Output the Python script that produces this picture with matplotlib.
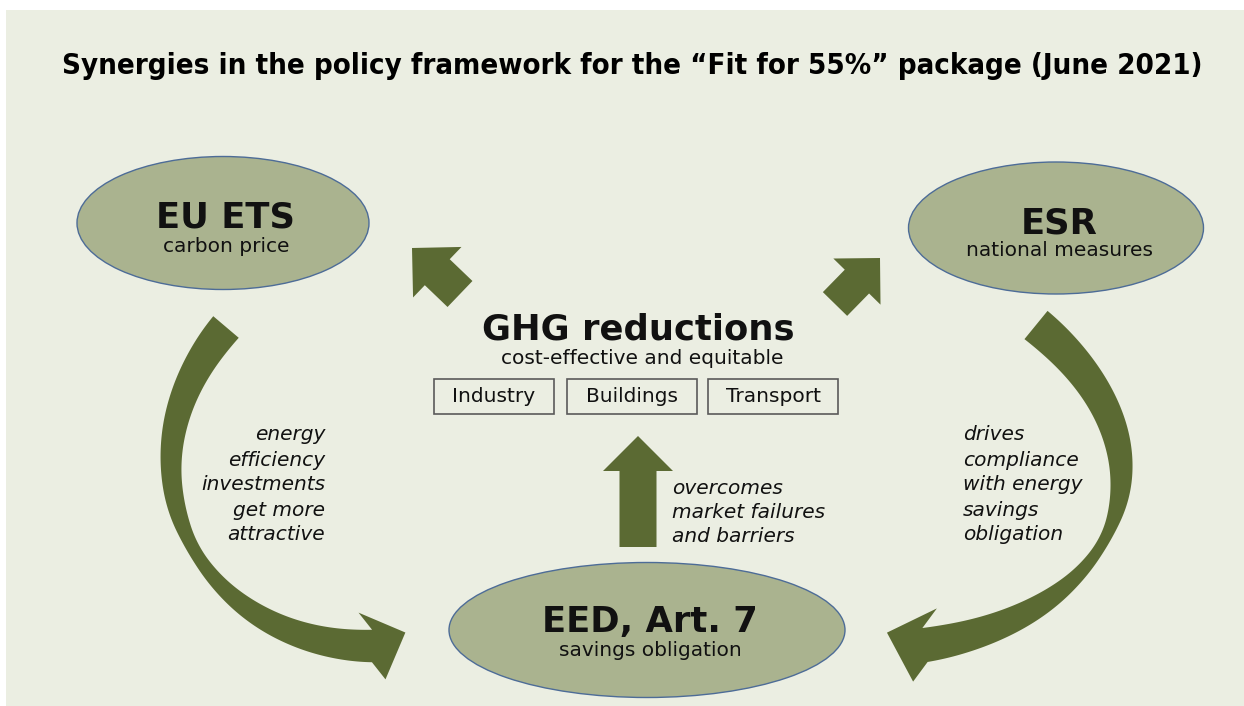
import numpy as np
import matplotlib
matplotlib.use("Agg")
import matplotlib.pyplot as plt
from matplotlib import font_manager
from matplotlib.patches import Ellipse, Rectangle, FancyArrow, Polygon

# text content of the diagram
title = "Synergies in the policy framework for the \u201cFit for 55%\u201d package (June 2021)"
node_names = ["EU ETS", "ESR", "EED, Art. 7"]
node_subs = ["carbon price", "national measures", "savings obligation"]
goal_name = "GHG reductions"
goal_sub = "cost-effective and equitable"
sectors = ["Industry", "Buildings", "Transport"]
left_note = ["energy", "efficiency", "investments", "get more", "attractive"]
right_note = ["drives", "compliance", "with energy", "savings", "obligation"]
mid_note = ["overcomes", "market failures", "and barriers"]

# colours
bg = "#ebeee2"
ell_fill = "#aab38f"
ell_edge = "#4d6c97"
arrow_col = "#5b6a33"
ink = "#111111"

names = {f.name for f in font_manager.fontManager.ttflist}
title_font = "Liberation Sans Narrow" if "Liberation Sans Narrow" in names else "DejaVu Sans"

W, H = 1244, 706
fig = plt.figure(figsize=(W / 100, H / 100), dpi=100)
ax = fig.add_axes([0, 0, 1, 1])
ax.set_xlim(0, W)
ax.set_ylim(H, 0)
ax.axis("off")

ax.add_patch(Rectangle((6, 10), W - 6, H - 10, color=bg, lw=0))

# title, scaled so it spans the same width as the original
t = ax.text(632, 66, title, ha="center", va="center", fontsize=22,
            fontweight="bold", family=title_font, fontstretch="condensed")
fig.canvas.draw()
w_now = t.get_window_extent().width
t.set_fontsize(22 * 1135 / w_now)

# ellipses (centre x, centre y, width, height)
ells = [(223, 223, 292, 133), (1056, 228, 295, 132), (647, 630, 396, 135)]
name_y = [218, 224, 622]
sub_y = [247, 251, 650]
for (cx, cy, ew, eh), nm, sb, ny, sy in zip(ells, node_names, node_subs, name_y, sub_y):
    ax.add_patch(Ellipse((cx, cy), ew, eh, fc=ell_fill, ec=ell_edge, lw=1))
    ax.text(cx + 3, ny, nm, ha="center", va="center", fontsize=25.5, fontweight="bold", color=ink)
    ax.text(cx + 3, sy, sb, ha="center", va="center", fontsize=14.5, color=ink)

# centre block
ax.text(638, 329, goal_name, ha="center", va="center", fontsize=25.5, fontweight="bold", color=ink)
ax.text(642, 359, goal_sub, ha="center", va="center", fontsize=14.5, color=ink)
box_x = [(434, 554), (567, 697), (708, 838)]
for (x0, x1), s in zip(box_x, sectors):
    ax.add_patch(Rectangle((x0, 379), x1 - x0, 35, fill=False, ec="#5a5a5a", lw=1.2))
    ax.text((x0 + x1) / 2, 397, s, ha="center", va="center", fontsize=14.5, color=ink)

# straight block arrows (tail x, tail y, tip x, tip y, shaft width, head width, head length)
straight = [(638, 547, 638, 436, 37, 70, 35),
            (460, 294, 412, 248, 36, 70, 35),
            (835, 304, 880, 258, 34, 66, 33)]
for x0, y0, x1, y1, sw, hw, hl in straight:
    ax.add_patch(FancyArrow(x0, y0, x1 - x0, y1 - y0, width=sw, head_width=hw,
                            head_length=hl, length_includes_head=True,
                            color=arrow_col, lw=0))


def bez(c, tt):
    c = np.asarray(c, float)
    tt = tt[:, None]
    return ((1 - tt) ** 3 * c[0] + 3 * (1 - tt) ** 2 * tt * c[1]
            + 3 * (1 - tt) * tt ** 2 * c[2] + tt ** 3 * c[3])


def curved_arrow(ctrl, tw, ww, head_deg, head_w, head_len):
    tt = np.linspace(0, 1, 300)
    pts = bez(ctrl, tt)
    d = np.gradient(pts, axis=0)
    d /= np.linalg.norm(d, axis=1)[:, None]
    nrm = np.column_stack([-d[:, 1], d[:, 0]])
    wid = np.interp(tt, tw, ww)
    wid = np.convolve(np.pad(wid, 15, mode="edge"), np.ones(31) / 31, mode="valid")[:, None]
    side_a = pts + nrm * wid / 2
    side_b = pts - nrm * wid / 2
    a = np.radians(head_deg)
    hd = np.array([np.cos(a), np.sin(a)])
    hp = np.array([-hd[1], hd[0]])
    mid = pts[-1]
    c1 = mid + hp * head_w / 2
    c2 = mid - hp * head_w / 2
    if np.linalg.norm(c1 - side_a[-1]) > np.linalg.norm(c2 - side_a[-1]):
        c1, c2 = c2, c1
    tip = mid + hd * head_len
    poly = np.vstack([side_a, [c1, tip, c2], side_b[::-1]])
    ax.add_patch(Polygon(poly, closed=True, color=arrow_col, lw=0))


curved_arrow([(226, 327), (103, 471), (202, 646), (372, 646)],
             [0, 0.15, 0.3, 0.42, 0.52, 0.62, 0.75, 0.9, 1],
             [34, 27, 21, 18, 12, 15, 22, 29, 33], -22, 72, 36)
curved_arrow([(1036, 325), (1191, 451), (1123, 615), (925, 645)],
             [0, 0.15, 0.3, 0.42, 0.55, 0.65, 0.8, 0.92, 1],
             [37, 31, 26, 20, 10, 13, 24, 31, 35], 198, 77, 40)

# italic notes
for i, s in enumerate(left_note):
    ax.text(325, 435 + 25 * i, s, ha="right", va="center", fontsize=14.5, style="italic", color=ink)
for i, s in enumerate(right_note):
    ax.text(963, 435 + 25 * i, s, ha="left", va="center", fontsize=14.5, style="italic", color=ink)
for i, s in enumerate(mid_note):
    ax.text(672, 488 + 24.5 * i, s, ha="left", va="center", fontsize=14.5, style="italic", color=ink)

fig.savefig("out.png", dpi=100, facecolor="white")
